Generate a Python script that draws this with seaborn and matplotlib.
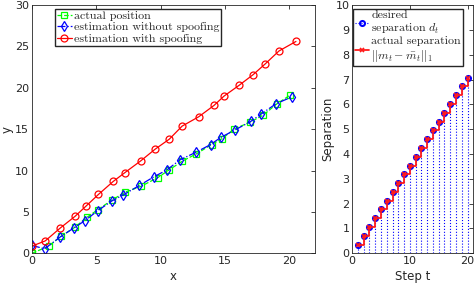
import numpy as np
import pandas as pd
import matplotlib
matplotlib.use('Agg')
import matplotlib.pyplot as plt
import seaborn as sns

# Estilo general
sns.set_style("white")
plt.rcParams['font.family'] = ['DejaVu Sans']
plt.rcParams['mathtext.fontset'] = 'cm'

# Trayectorias (panel izquierdo)
actual_x = [0, 1.3, 2.27, 3.36, 4.29, 5.1, 6.23, 7.25, 8.48, 9.78,
            10.68, 11.7, 12.76, 13.96, 14.78, 15.7, 16.95, 17.98, 19.02, 20.05]
actual_y = [0, 0.87, 2.07, 3.18, 4.37, 5.25, 6.45, 7.4, 8.1, 9.15,
            10.1, 11.15, 12.0, 13.14, 13.86, 15.0, 15.85, 16.7, 18.04, 19.1]

nospoof_x = [0, 0.98, 2.2, 3.29, 4.11, 5.1, 6.21, 7.09, 8.35, 9.47,
             10.48, 11.51, 12.72, 13.88, 14.67, 15.81, 17.0, 17.83, 18.98, 20.22]
nospoof_y = [0.95, 0.55, 1.98, 3.1, 3.94, 5.14, 6.33, 7.05, 8.2, 9.24,
             10.07, 11.3, 12.19, 13.14, 14.0, 14.93, 15.93, 16.85, 18.08, 18.91]

spoof_x = [0, 1.03, 2.2, 3.34, 4.19, 5.17, 6.31, 7.22, 8.46, 9.57,
           10.68, 11.67, 12.96, 14.15, 14.93, 16.1, 17.2, 18.14, 19.2, 20.52]
spoof_y = [0.87, 1.5, 3.06, 4.46, 5.69, 7.12, 8.68, 9.75, 11.18, 12.58,
           13.8, 15.37, 16.5, 17.87, 19.0, 20.3, 21.6, 22.9, 24.45, 25.6]

# Separación (panel derecho)
steps = list(range(1, 21))
desired_sep = [0.35, 0.7, 1.06, 1.41, 1.77, 2.12, 2.47, 2.83, 3.18, 3.53,
               3.89, 4.24, 4.6, 4.95, 5.3, 5.66, 6.0, 6.36, 6.72, 7.07]
actual_sep = [0.35, 0.7, 1.06, 1.41, 1.77, 2.12, 2.47, 2.83, 3.18, 3.53,
              3.89, 4.24, 4.6, 4.95, 5.3, 5.66, 6.0, 6.36, 6.72, 7.07]

fig = plt.figure(figsize=(4.74, 2.89), dpi=100)
ax1 = fig.add_axes([0.0675, 0.1235, 0.597, 0.859])
ax2 = fig.add_axes([0.743, 0.1235, 0.2555, 0.859])

leg_font = {'family': 'cmr10', 'size': 8.6}

sns.lineplot(x=actual_x, y=actual_y, sort=False, ax=ax1, color=(0, 1, 0),
             linestyle='--', marker='s', markersize=4, markerfacecolor='none',
             markeredgecolor=(0, 1, 0), markeredgewidth=0.9, lw=0.9,
             label='actual position')
sns.lineplot(x=nospoof_x, y=nospoof_y, sort=False, ax=ax1, color='blue',
             linestyle='-.', marker='d', markersize=5, markerfacecolor='none',
             markeredgecolor='blue', markeredgewidth=0.9, lw=0.9,
             label='estimation without spoofing')
sns.lineplot(x=spoof_x, y=spoof_y, sort=False, ax=ax1, color='red',
             linestyle='-', marker='o', markersize=5, markerfacecolor='none',
             markeredgecolor='red', markeredgewidth=0.9, lw=0.9,
             label='estimation with spoofing')

ax1.set_xlim(0, 22)
ax1.set_ylim(0, 30)
ax1.set_xticks([0, 5, 10, 15, 20])
ax1.set_yticks([0, 5, 10, 15, 20, 25, 30])
ax1.set_xlabel('x', fontsize=8.5, labelpad=3)
ax1.set_ylabel('y', fontsize=8.5, labelpad=1)
ax1.legend(loc='upper left', bbox_to_anchor=(0.081, 0.985), borderaxespad=0,
           prop=leg_font, fancybox=False, framealpha=1, edgecolor='#262626',
           handlelength=1.3, handletextpad=0.15, borderpad=0.15,
           labelspacing=0.1)

# Panel derecho: tallos punteados + escalera
ax2.vlines(steps, 0, desired_sep, colors='blue', linestyles=':', lw=0.8)
sns.lineplot(x=steps, y=desired_sep, ax=ax2, color='blue', linestyle='None',
             marker='o', markersize=3.6, markerfacecolor='none',
             markeredgecolor='blue', markeredgewidth=1.5,
             label='desired\nseparation $d_t$')
ax2.step(steps, actual_sep, where='post', color='#ff1a1a', lw=1.3,
         marker='x', markersize=2.5, markeredgewidth=1.2,
         label='actual separation\n$||m_t - \\bar{m}_t||_1$')

ax2.set_xlim(0, 21)
ax2.set_ylim(0, 10)
ax2.set_xticks([0, 10, 20])
ax2.set_yticks(range(0, 11))
ax2.set_xlabel('Step t', fontsize=8.5, labelpad=3)
ax2.set_ylabel('Separation', fontsize=8.5, labelpad=1)
leg2 = ax2.legend(loc='upper left', bbox_to_anchor=(0.005, 0.985), borderaxespad=0,
                  prop=leg_font, fancybox=False, framealpha=1, edgecolor='#262626',
                  handlelength=1.2, handletextpad=0.2, borderpad=0.15,
                  labelspacing=0.0)
leg2.get_lines()[0].set_linestyle(':')
leg2.get_lines()[0].set_linewidth(0.8)

for ax in (ax1, ax2):
    ax.tick_params(direction='in', length=3, width=0.6, labelsize=8,
                   colors='#262626', top=True, right=True, pad=2)
    for s in ax.spines.values():
        s.set_color('#262626')
        s.set_linewidth(0.6)
    ax.grid(False)

fig.savefig('out.png', dpi=100)
